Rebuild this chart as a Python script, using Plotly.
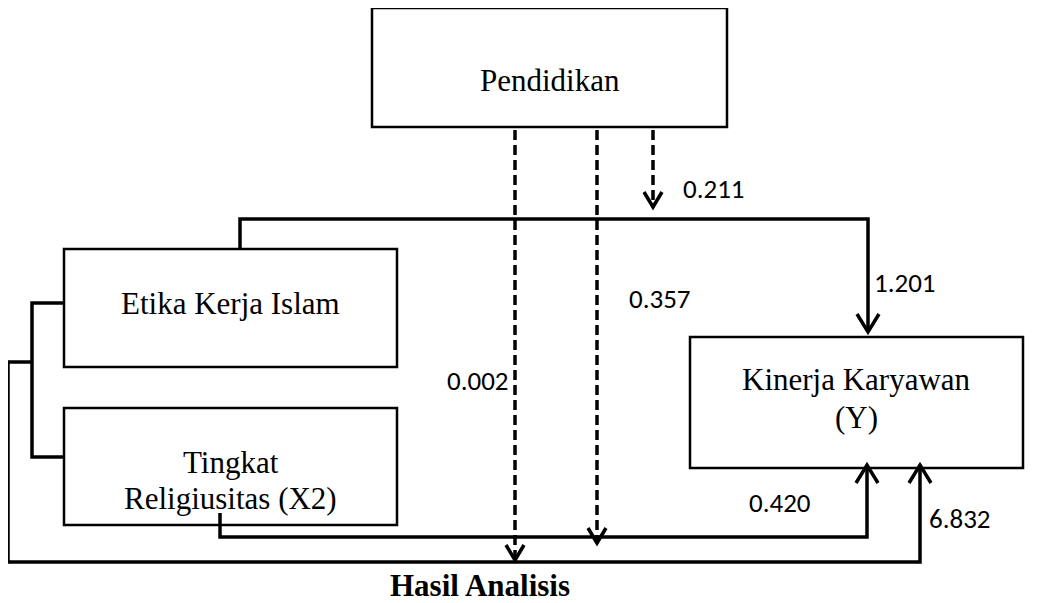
import plotly.graph_objects as go

W, H = 1038, 603
PAGE_OFFSET = 8  # default page margin of the html body

# Nodes of the path diagram: name, box [x0, y0, x1, y1], text lines
node_names = ["Pendidikan", "Etika", "Tingkat", "Kinerja"]
node_boxes = [[372, 8, 727, 127], [64, 249, 397, 367], [64, 408, 397, 525], [690, 337, 1023, 468]]
node_texts = [["Pendidikan"], ["Etika Kerja Islam"], ["Tingkat", "Religiusitas (X2)"], ["Kinerja Karyawan", "(Y)"]]
node_text_y = [[80], [303], [462, 498], [379, 417]]

# Solid connector paths (polylines) and which end has an arrow
solid_paths = [
    [[240, 249], [240, 219], [868, 219], [868, 332]],
    [[64, 303], [32, 303], [32, 457], [64, 457]],
    [[32, 362], [8, 362], [8, 562], [920, 562], [920, 465]],
    [[220, 513], [220, 537], [867, 537], [867, 465]],
]
solid_arrow_dirs = ["down", None, "up", "up"]

# Dashed arrows from Pendidikan
dashed_paths = [
    [[515, 130], [515, 560]],
    [[597, 130], [597, 543]],
    [[653, 130], [653, 207]],
]

# Coefficient labels
coef_labels = ["0.211", "1.201", "0.357", "0.002", "0.420", "6.832"]
coef_pos = [[714, 188], [905, 282], [660, 298], [478, 380], [780, 502], [960, 518]]

title_text = "Hasil Analisis"
title_pos = [480, 585]

fig = go.Figure()

def add_line(pts, dash="solid", width=3.5):
    fig.add_trace(go.Scatter(x=[p[0] for p in pts], y=[p[1] for p in pts], mode="lines",
                             line=dict(color="black", width=width, dash=dash),
                             hoverinfo="skip", showlegend=False))

def add_chevron(tip, direction, hw=11, hh=18, width=3.5):
    tx, ty = tip
    s = -1 if direction == "down" else 1
    add_line([[tx - hw, ty + s * hh], [tx, ty], [tx + hw, ty + s * hh]], width=width)

for b in node_boxes:
    fig.add_shape(type="rect", x0=b[0], y0=b[1], x1=b[2], y1=b[3], xref="x", yref="y",
                  line=dict(color="black", width=2.5), fillcolor="rgba(0,0,0,0)")

for pts, d in zip(solid_paths, solid_arrow_dirs):
    add_line(pts)
    if d:
        add_chevron(pts[-1], d)

for pts in dashed_paths:
    add_line(pts, dash="10px,5px", width=3.5)
    add_chevron(pts[-1], "down", hw=9, hh=15)

for b, lines, ys in zip(node_boxes, node_texts, node_text_y):
    cx = (b[0] + b[2]) / 2
    for t, y in zip(lines, ys):
        fig.add_annotation(x=cx, y=y, text=t, showarrow=False, xref="x", yref="y",
                           font=dict(family="Liberation Serif", size=31, color="black"))

for t, p in zip(coef_labels, coef_pos):
    fig.add_annotation(x=p[0], y=p[1], text=t, showarrow=False, xref="x", yref="y",
                       font=dict(family="Carlito, Lato, Noto Sans", size=27, color="black"))

fig.add_annotation(x=title_pos[0], y=title_pos[1], text="<b>" + title_text + "</b>", showarrow=False,
                   xref="x", yref="y", font=dict(family="Liberation Serif", size=31, color="black"))

fig.update_xaxes(range=[PAGE_OFFSET, W + PAGE_OFFSET], visible=False, fixedrange=True)
fig.update_yaxes(range=[H + PAGE_OFFSET, PAGE_OFFSET], visible=False, fixedrange=True)
fig.update_layout(width=W, height=H, margin=dict(l=0, r=0, t=0, b=0),
                  paper_bgcolor="white", plot_bgcolor="white")

fig.write_html("out.html")
